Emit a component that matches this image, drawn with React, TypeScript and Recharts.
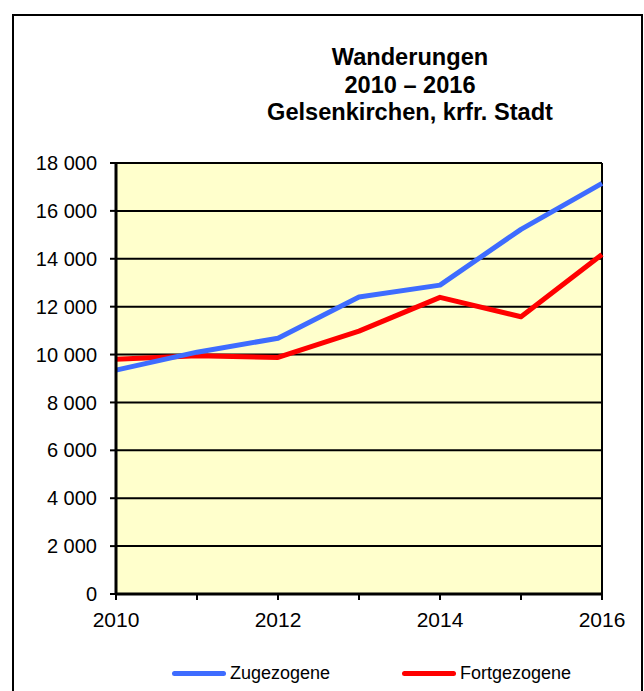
import { LineChart, Line, XAxis, YAxis, CartesianGrid, ReferenceLine } from "recharts"

const years = [2010, 2011, 2012, 2013, 2014, 2015, 2016]
const zugezogene = [9350, 10100, 10680, 12400, 12900, 15230, 17150]
const fortgezogene = [9800, 9950, 9880, 10980, 12390, 11580, 14180]
const yTicks = [0, 2000, 4000, 6000, 8000, 10000, 12000, 14000, 16000, 18000]
const xLabels = [2010, 2012, 2014, 2016]
const titleLines = ["Wanderungen", "2010 – 2016", "Gelsenkirchen, krfr. Stadt"]

const data = years.map((year, i) => ({
  year,
  zugezogene: zugezogene[i],
  fortgezogene: fortgezogene[i],
}))

const font = "'Liberation Sans', Arial, sans-serif"

const fmt = (v: number) => String(v).replace(/\B(?=(\d{3})+(?!\d))/g, " ")

export default function App() {
  return (
    <div style={{ position: "absolute", left: 0, top: 0, width: 644, height: 691, overflow: "hidden", background: "#fff", fontFamily: font }}>
      <div style={{ position: "absolute", left: 12, top: 14, width: 627, height: 720, border: "2px solid #000" }} />

      <div style={{ position: "absolute", left: 210, top: 44, width: 400, textAlign: "center", fontSize: 23.6, fontWeight: "bold", lineHeight: "27.5px", color: "#000" }}>
        {titleLines.map((t) => (
          <div key={t}>{t}</div>
        ))}
      </div>

      <div style={{ position: "absolute", left: 0, top: 0 }}>
        <LineChart width={644} height={691} data={data} margin={{ top: 163, right: 42, left: 0, bottom: 57 }}>
          <CartesianGrid vertical={false} stroke="#000" strokeWidth={2} fill="#FFFFCC" fillOpacity={1} horizontalValues={yTicks} />
          <XAxis
            dataKey="year"
            type="number"
            domain={[2010, 2016]}
            ticks={years}
            tickFormatter={(v: number) => (xLabels.includes(v) ? String(v) : "")}
            height={40}
            axisLine={{ stroke: "#000", strokeWidth: 3 }}
            tickLine={{ stroke: "#000", strokeWidth: 2 }}
            tickSize={6}
            tickMargin={12}
            tick={{ fill: "#000", fontSize: 21, fontFamily: font }}
          />
          <YAxis
            domain={[0, 18000]}
            ticks={yTicks}
            tickFormatter={fmt}
            width={116}
            interval={0}
            axisLine={{ stroke: "#000", strokeWidth: 3 }}
            tickLine={{ stroke: "#000", strokeWidth: 2 }}
            tickSize={6}
            tickMargin={13}
            tick={{ fill: "#000", fontSize: 20, fontFamily: font }}
          />
          <ReferenceLine x={2016} stroke="#000" strokeWidth={2} />
          <Line
            dataKey="fortgezogene"
            stroke="#FF0000"
            strokeWidth={5}
            dot={false}
            isAnimationActive={false}
            strokeLinejoin="round"
          />
          <Line
            dataKey="zugezogene"
            stroke="#3E6CFF"
            strokeWidth={5}
            dot={false}
            isAnimationActive={false}
            strokeLinejoin="round"
          />
        </LineChart>
      </div>

      <div style={{ position: "absolute", left: 172, top: 671, width: 54, height: 5, borderRadius: 3, background: "#3E6CFF" }} />
      <div style={{ position: "absolute", left: 230, top: 663, fontSize: 18, lineHeight: "20px", color: "#000" }}>Zugezogene</div>
      <div style={{ position: "absolute", left: 402, top: 671, width: 54, height: 5, borderRadius: 3, background: "#FF0000" }} />
      <div style={{ position: "absolute", left: 460, top: 663, fontSize: 18, lineHeight: "20px", color: "#000" }}>Fortgezogene</div>
    </div>
  )
}
